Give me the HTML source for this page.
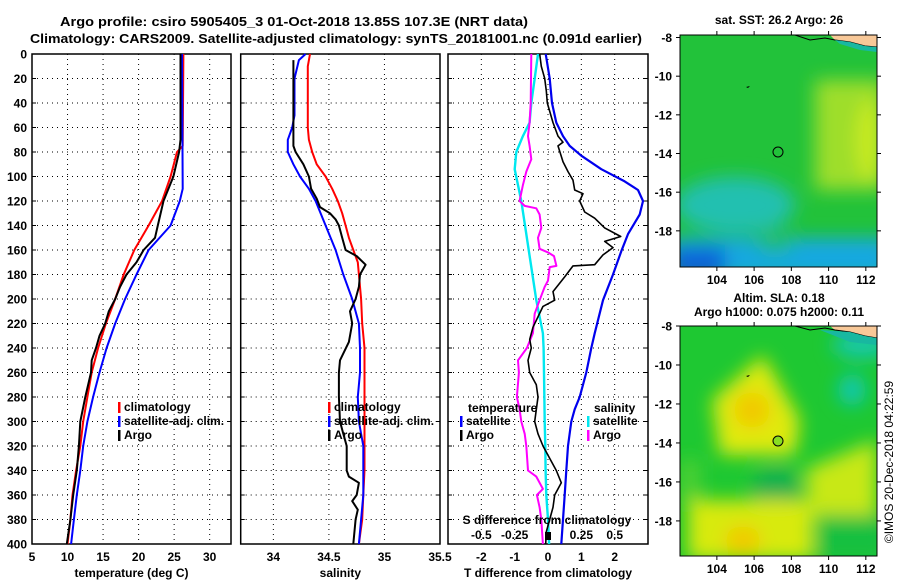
<!DOCTYPE html>
<html><head><meta charset="utf-8"><style>
html,body{margin:0;padding:0;background:#fff;}
svg{display:block;font-family:"Liberation Sans",sans-serif;font-weight:bold;}
</style></head><body>
<svg id="chart" width="900" height="580" viewBox="0 0 900 580" xmlns="http://www.w3.org/2000/svg">
<defs>
<filter id="bl" x="-20%" y="-20%" width="140%" height="140%"><feGaussianBlur stdDeviation="9"/></filter>
<clipPath id="c1"><rect x="680" y="35" width="197" height="232"/></clipPath>
<clipPath id="c2"><rect x="680" y="326" width="197" height="230"/></clipPath>
</defs>
<text x="60" y="26" font-size="13" textLength="468" lengthAdjust="spacingAndGlyphs">Argo profile: csiro 5905405_3 01-Oct-2018 13.85S 107.3E (NRT data)</text>
<text x="30" y="43" font-size="13" textLength="612" lengthAdjust="spacingAndGlyphs">Climatology: CARS2009. Satellite-adjusted climatology: synTS_20181001.nc (0.091d earlier)</text>
<g id="plots"></g>
<g id="maps">
 <text x="779" y="24" font-size="12" text-anchor="middle">sat. SST: 26.2 Argo: 26</text>
 <g clip-path="url(#c1)">
  <rect x="680" y="35" width="197" height="232" fill="#22c23a"/>
  <g filter="url(#bl)">
   <rect x="815" y="80" width="70" height="110" fill="#9ede2a"/>
   <ellipse cx="870" cy="140" rx="14" ry="40" fill="#c8ea20"/>
   <ellipse cx="735" cy="205" rx="60" ry="28" fill="#22c0b0"/>
   <rect x="670" y="238" width="220" height="40" fill="#18a8e0"/>
   <ellipse cx="775" cy="240" rx="20" ry="12" fill="#24bc70"/>
   <rect x="670" y="248" width="55" height="30" fill="#1060d8"/>
  </g>
  <polygon points="830,35 877,35 877,47 865,46 850,42 835,40" fill="#f8c898"/>
  <polyline points="795,35 810,40 825,38 835,40 850,42 865,46 877,47" fill="none" stroke="#000" stroke-width="1"/>
  <polygon points="835,40 850,42 865,46 877,47 877,52 860,50 840,44" fill="#18b8a0"/>
 </g>
 <rect x="680" y="35" width="197" height="232" fill="none" stroke="#000" stroke-width="1"/>
 <circle cx="778" cy="152" r="5" fill="none" stroke="#000" stroke-width="1"/>
 <path d="M746,87 l4,-1 -2,2z" fill="#000"/>
 <text x="779" y="302" font-size="12" text-anchor="middle">Altim. SLA: 0.18</text>
 <text x="779" y="316" font-size="12" text-anchor="middle">Argo h1000: 0.075 h2000: 0.11</text>
 <g clip-path="url(#c2)">
  <rect x="680" y="326" width="197" height="230" fill="#1ec832"/>
  <g filter="url(#bl)">
   <polygon points="763,355 800,420 795,455 720,455 712,400" fill="#e0ea10"/>
   <ellipse cx="752" cy="410" rx="18" ry="18" fill="#f2c800"/>
   <ellipse cx="852" cy="390" rx="14" ry="16" fill="#10c8b0"/>
   <ellipse cx="862" cy="345" rx="30" ry="14" fill="#18c8a8"/>
   <ellipse cx="776" cy="490" rx="24" ry="22" fill="#18b050"/>
   <rect x="688" y="500" width="125" height="60" fill="#d8ea10"/>
   <ellipse cx="743" cy="540" rx="18" ry="14" fill="#f2c800"/>
   <polygon points="805,470 877,440 877,515 810,515" fill="#c8e818"/>
   <rect x="817" y="515" width="70" height="45" fill="#14c040"/>
   <rect x="680" y="460" width="20" height="40" fill="#50d030"/>
  </g>
  <polygon points="830,326 877,326 877,338 865,336 850,332 835,330" fill="#f8c898"/>
  <polyline points="795,326 810,330 825,328 835,330 850,332 865,336 877,338" fill="none" stroke="#000" stroke-width="1"/>
  <polygon points="820,330 850,332 865,336 877,338 877,345 850,342" fill="#18b8a0"/>
 </g>
 <rect x="680" y="326" width="197" height="230" fill="none" stroke="#000" stroke-width="1"/>
 <circle cx="778" cy="441" r="5" fill="#88dd22" stroke="#000" stroke-width="1"/>
 <path d="M746,376 l4,-1 -2,2z" fill="#000"/>
 <text transform="translate(893,462) rotate(-90)" font-size="12" font-weight="normal" text-anchor="middle">©IMOS 20-Dec-2018 04:22:59</text>
</g>
</svg>
<script>
// ---- profile data (depth in m) ----
const depthsClimT = [0,75,80,100,120,140,160,180,200,220,240,260,280,300,320,340,360,380,400];
const climTemp    = [26.3,26.2,25.4,24.5,23.3,21.4,19.4,17.9,16.7,15.4,14.3,13.4,12.8,12.2,11.8,11.2,10.7,10.4,10.0];
const depthsSatT  = [0,110,120,140,160,180,200,220,240,260,280,300,320,340,360,380,400];
const satTemp     = [26.1,26.2,25.8,24.5,21.4,19.7,18.1,16.7,15.5,14.5,13.6,12.8,12.2,11.8,11.3,10.9,10.5];
const depthsArgoT = [0,70,80,100,120,140,150,160,170,180,190,200,210,220,230,240,250,260,280,300,320,340,360,380,400];
const argoTemp    = [25.9,25.9,25.7,24.9,23.5,22.7,22.3,20.7,19.7,18.3,17.4,16.7,15.8,15.3,14.5,14.0,13.4,13.3,12.5,11.8,11.6,11.3,10.8,10.4,9.9];

const depthsClimS = [0,10,60,70,80,90,100,110,120,130,140,150,160,170,180,200,220,240,340,360,380,400];
const climSal     = [34.33,34.31,34.31,34.32,34.35,34.39,34.47,34.53,34.58,34.62,34.65,34.68,34.72,34.76,34.77,34.79,34.80,34.82,34.82,34.81,34.80,34.77];
const depthsSatS  = [0,5,20,50,60,70,80,90,100,110,120,140,160,180,200,220,240,260,280,300,320,340,360,380,400];
const satSal      = [34.29,34.23,34.19,34.19,34.17,34.13,34.13,34.18,34.24,34.32,34.38,34.47,34.56,34.63,34.71,34.77,34.78,34.78,34.76,34.77,34.81,34.81,34.81,34.79,34.77];
const depthsArgoS = [5,75,80,90,100,110,118,125,130,135,140,150,160,165,172,180,190,200,210,220,235,250,260,280,300,310,320,340,345,350,360,365,372,380,400];
const argoSal     = [34.18,34.18,34.20,34.27,34.32,34.34,34.39,34.42,34.51,34.56,34.59,34.62,34.65,34.75,34.83,34.78,34.77,34.74,34.69,34.71,34.68,34.60,34.59,34.59,34.60,34.63,34.66,34.66,34.68,34.77,34.75,34.71,34.76,34.74,34.72];

const depthsSatDT = [0,20,40,56,67,75,83,94,104,111,120,131,147,161,180,201,228,240,260,280,290,300,320,340,360,380,400];
const satDiffT    = [-0.07,0.05,0.12,0.25,0.45,0.65,1.0,1.6,2.3,2.7,2.85,2.75,2.4,2.2,1.95,1.65,1.4,1.3,1.15,0.95,0.8,0.7,0.6,0.55,0.5,0.45,0.4];
const depthsArgoDT= [0,10,20,30,40,56,67,72,75,88,96,103,111,114,120,129,134,142,149,153,158,164,172,173,182,194,201,206,223,233,240,250,260,270,280,300,310,320,340,350,360,370,380,390,400];
const argoDiffT   = [-0.25,-0.2,-0.1,-0.05,-0.02,0.15,0.3,0.45,0.3,0.45,0.6,0.75,0.8,1.05,0.95,1.1,1.4,1.7,2.18,1.7,1.95,1.65,1.4,0.75,0.5,0.15,0.2,-0.15,-0.45,-0.55,-0.5,-0.6,-0.55,-0.35,-0.3,-0.4,-0.3,-0.15,0.25,0.4,0.2,0.15,0.05,-0.05,-0.07];
const depthsSatDS = [0,20,40,56,67,80,94,107,120,147,174,201,228,240,260,300,320,340,360,380,400];
const satDiffS    = [-0.075,-0.1,-0.125,-0.138,-0.188,-0.238,-0.25,-0.225,-0.2,-0.163,-0.125,-0.088,-0.038,-0.033,-0.03,-0.025,-0.02,-0.018,-0.013,0,0.008];
const depthsArgoDS= [0,40,56,67,75,86,96,107,120,124,126,131,142,150,159,162,165,173,174,185,190,201,212,228,240,250,260,280,290,300,310,320,340,345,355,360,370,380,400];
const argoDiffS   = [-0.125,-0.13,-0.138,-0.15,-0.138,-0.125,-0.163,-0.188,-0.213,-0.175,-0.088,-0.063,-0.05,-0.075,-0.063,0,0.045,0.063,0.013,0,-0.025,-0.063,-0.1,-0.113,-0.158,-0.225,-0.218,-0.233,-0.213,-0.2,-0.175,-0.163,-0.15,-0.088,-0.038,-0.083,-0.063,-0.05,-0.038];

const depthTicks = [0,20,40,60,80,100,120,140,160,180,200,220,240,260,280,300,320,340,360,380,400];
const tempTicks = [5,10,15,20,25,30];
const salTicks = [34,34.5,35,35.5];
const salTickLabels = ["34","34.5","35","35.5"];
const dtTicks = [-2,-1,0,1,2];
const dsTicks = [-0.5,-0.25,0.25,0.5];
const dsTickLabels = ["-0.5","-0.25","0.25","0.5"];
const lonTicks=[104,106,108,110,112];
const latTicks=[-8,-10,-12,-14,-16,-18];

const NS='http://www.w3.org/2000/svg';
const root=document.getElementById('plots');
const Y0=54, Y1=544;
const yD = d => Y0 + d*(Y1-Y0)/400;
function lin(d0,d1,r0,r1){return v=>r0+(v-d0)*(r1-r0)/(d1-d0);}
const xT = lin(5,33,32,231);
const xS = lin(33.706,35.5,240.7,440);
const xDT = lin(-3,3,448,648);
const xDS = v => xDT(v*4);

function mk(tag,attrs,parent){const e=document.createElementNS(NS,tag);for(const k in attrs)e.setAttribute(k,attrs[k]);(parent||root).appendChild(e);return e;}
function txt(x,y,s,size,anchor,parent){const t=mk('text',{x:x,y:y,'font-size':size,'text-anchor':anchor||'start'},parent);t.textContent=s;return t;}

function panel(name,x0,x1,xs,ticks,labels,title,showY){
  const g=mk('g',{});
  
  
  depthTicks.forEach(d=>{ if(d>0 && d<400) mk('line',{x1:x0,x2:x1,y1:yD(d),y2:yD(d),stroke:'#000','stroke-width':1,'stroke-dasharray':'1,4'},g);
    mk('line',{x1:x0,x2:x0+4,y1:yD(d),y2:yD(d),stroke:'#000'},g); mk('line',{x1:x1-4,x2:x1,y1:yD(d),y2:yD(d),stroke:'#000'},g);});
  ticks.forEach((v,i)=>{const x=xs(v); if(x>x0+1 && x<x1-1) mk('line',{x1:x,x2:x,y1:Y0,y2:Y1,stroke:'#000','stroke-dasharray':'1,4'},g);
    const t=txt(x,561,labels[i],12,'middle',g);
    
    });
  mk('rect',{x:x0,y:Y0,width:x1-x0,height:Y1-Y0,fill:'none',stroke:'#000','stroke-width':1.5},g);
  const tt=txt((x0+x1)/2,577,title,12,'middle',g);
  
  
  if(showY) depthTicks.forEach(d=>{const t=txt(27,yD(d)+4.5,String(d),12,'end',g);
    
    });
  return g;
}
function series(name,g,depths,vals,xs,color,w){
  const pts=depths.map((d,i)=>xs(vals[i]).toFixed(1)+','+yD(d).toFixed(1)).join(' ');
  const p=mk('polyline',{points:pts,fill:'none',stroke:color,'stroke-width':w||2,'stroke-linejoin':'round'},g);
  
  
}
function legendEntry(g,x,y,color,label,name){
  const e=mk('g',{},g);
  
  
  mk('rect',{x:x,y:y-9,width:2.5,height:11,fill:color},e);
  txt(x+6,y,label,12,'start',e);
}

const p1=panel('temperature-panel',32,231,xT,tempTicks,tempTicks.map(String),'temperature (deg C)',true);
series('climatology-temp-line',p1,depthsClimT,climTemp,xT,'#ff0000');
series('satellite-adj-temp-line',p1,depthsSatT,satTemp,xT,'#0000ff');
series('argo-temp-line',p1,depthsArgoT,argoTemp,xT,'#000000');
legendEntry(p1,118,411,'#ff0000','climatology','legend-climatology');
legendEntry(p1,118,425,'#0000ff','satellite-adj. clim.','legend-satellite-adj');
legendEntry(p1,118,439,'#000000','Argo','legend-argo');

const p2=panel('salinity-panel',240.7,440,xS,salTicks,salTickLabels,'salinity',false);
series('climatology-salinity-line',p2,depthsClimS,climSal,xS,'#ff0000');
series('satellite-adj-salinity-line',p2,depthsSatS,satSal,xS,'#0000ff');
series('argo-salinity-line',p2,depthsArgoS,argoSal,xS,'#000000');
legendEntry(p2,328,411,'#ff0000','climatology','legend-climatology-sal');
legendEntry(p2,328,425,'#0000ff','satellite-adj. clim.','legend-satellite-adj-sal');
legendEntry(p2,328,439,'#000000','Argo','legend-argo-sal');

const p3=panel('difference-panel',448,648,xDT,dtTicks,dtTicks.map(String),'T difference from climatology',false);
series('satellite-s-diff-line',p3,depthsSatDS,satDiffS,xDS,'#00e8f0',2.4);
series('argo-s-diff-line',p3,depthsArgoDS,argoDiffS,xDS,'#ff00ff',2);
series('satellite-t-diff-line',p3,depthsSatDT,satDiffT,xDT,'#0000ee',2.2);
series('argo-t-diff-line',p3,depthsArgoDT,argoDiffT,xDT,'#000000',1.6);
const t1=txt(468,412,'temperature',12,'start',p3);


legendEntry(p3,460,425,'#0000ff','satellite','legend-t-satellite');
legendEntry(p3,460,439,'#000000','Argo','legend-t-argo');
const t2=txt(594,412,'salinity',12,'start',p3);


legendEntry(p3,587,425,'#00e8f0','satellite','legend-s-satellite');
legendEntry(p3,587,439,'#ff00ff','Argo','legend-s-argo');
const st=txt(547,524,'S difference from climatology',12,'middle',p3);


dsTicks.forEach((v,i)=>{const t=txt(xDS(v),539,dsTickLabels[i],12,'middle',p3);
  
  });
mk('rect',{x:xDS(0)-3,y:532,width:6,height:8,fill:'#000'},p3);

// map axes
const mapG=document.getElementById('maps');
function mapAxes(top,bottom,latTop,latBot,labelY,name){
  const xL=lin(102.02,112.6,680,877), yL=lin(latTop,latBot,top,bottom);
  lonTicks.forEach(v=>{const x=xL(v);
    mk('line',{x1:x,x2:x,y1:top-4,y2:top,stroke:'#000'},mapG);mk('line',{x1:x,x2:x,y1:bottom,y2:bottom+4,stroke:'#000'},mapG);
    const t=txt(x,labelY,String(v),12,'middle',mapG);
    
    });
  latTicks.forEach(v=>{const y=yL(v); if(y < top-1) return;
    mk('line',{x1:676,x2:680,y1:y,y2:y,stroke:'#000'},mapG);mk('line',{x1:877,x2:881,y1:y,y2:y,stroke:'#000'},mapG);
    const t=txt(672,y+4.5,String(v),12,'end',mapG);
    
    });
}
mapAxes(35,267,-7.87,-19.87,284,'sst-map');
mapAxes(326,556,-8.0,-19.8,573,'sla-map');
</script>
</body></html>
